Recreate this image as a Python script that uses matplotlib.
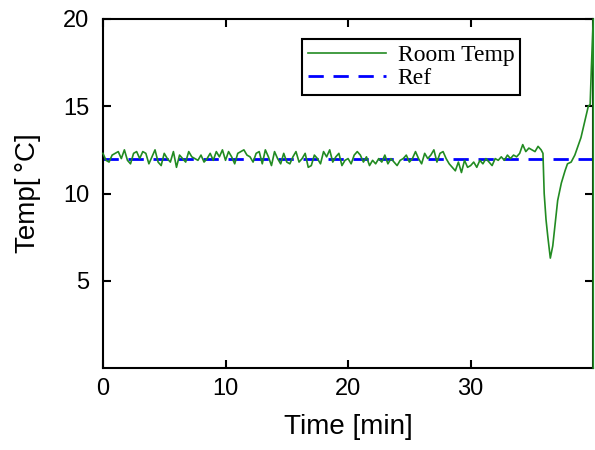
import numpy as np
import matplotlib.pyplot as plt

# room temperature log, 15 s samples up to 35.75 min
t_steady = np.arange(0, 36, 0.25)
temp_steady = [
    12.3, 11.9, 11.8, 12.2, 12.3, 12.4, 12.0, 12.5, 11.9, 11.7,
    12.3, 12.4, 12.0, 12.4, 12.3, 11.7, 12.1, 12.5, 11.8, 11.6,
    12.3, 12.0, 11.8, 12.4, 11.5, 12.2, 12.0, 11.8, 12.4, 12.1,
    12.0, 11.9, 12.2, 11.8, 12.0, 12.3, 11.9, 12.4, 12.1, 12.5,
    11.9, 12.4, 12.1, 11.7, 12.3, 12.4, 12.5, 12.2, 12.1, 11.8,
    12.3, 12.4, 11.7, 12.5, 12.1, 11.6, 12.4, 12.0, 11.7, 12.3,
    11.8, 11.7, 12.1, 12.4, 11.8, 12.0, 12.3, 11.5, 11.6, 12.2,
    12.0, 11.7, 12.4, 12.1, 12.5, 11.8, 12.1, 12.3, 11.6, 11.9,
    12.0, 11.7, 12.2, 12.4, 12.2, 11.8, 12.1, 11.6, 11.9, 11.7,
    12.0, 11.8, 12.2, 11.7, 12.0, 11.8, 11.6, 11.9, 12.0, 12.2,
    11.8, 12.0, 12.4, 12.0, 11.7, 12.3, 12.0, 12.2, 12.5, 11.8,
    12.3, 12.4, 12.0, 11.7, 11.5, 11.3, 11.8, 11.2, 11.9, 11.5,
    11.6, 11.8, 11.5, 11.9, 11.7, 12.0, 11.8, 11.6, 12.0, 11.9,
    12.1, 11.9, 12.2, 12.0, 12.2, 12.1, 12.3, 12.8, 12.4, 12.6,
    12.5, 12.4, 12.7, 12.5,
]
# door opened: drop and recovery
t_event = [35.9, 36.0, 36.15, 36.3, 36.5, 36.7, 36.9, 37.1, 37.4, 37.7,
           37.9, 38.2, 38.5, 38.8, 39.0, 39.2, 39.4, 39.6, 39.75, 39.85,
           39.95, 40.0, 40.0]
temp_event = [12.3, 10.0, 8.5, 7.5, 6.3, 7.0, 8.3, 9.6, 10.6, 11.3,
              11.7, 11.8, 12.2, 12.8, 13.2, 13.8, 14.4, 15.0, 15.1, 17.2,
              19.0, 20.0, 0.0]
ref_temp = 12

time = np.concatenate([t_steady, t_event])
temp = np.concatenate([temp_steady, temp_event])

plt.rcParams['font.family'] = 'Liberation Sans'
fig = plt.figure(figsize=(5.95, 4.5), dpi=100)
ax = fig.add_axes([0.173, 0.182, 0.824, 0.776])

ax.plot(time, temp, color='#228B22', lw=1.2, label='Room Temp', zorder=3, clip_on=False)
ax.plot([0, 40], [ref_temp, ref_temp], color='#0000FF', lw=2,
        linestyle=(0, (5.5, 3.5)), label='Ref', zorder=2)

ax.set_xlim(0, 40)
ax.set_ylim(0, 20)
ax.set_xticks([0, 10, 20, 30])
ax.set_yticks([5, 10, 15, 20])
ax.tick_params(direction='in', top=True, right=True, labelsize=17, length=6, width=1.5)
ax.tick_params(axis='x', pad=7)
ax.tick_params(axis='y', pad=10)
for s in ax.spines.values():
    s.set_linewidth(1.5)

ax.set_xlabel('Time [min]', fontsize=20, labelpad=10)
ax.set_ylabel('Temp[\u2009°C]', fontsize=20, labelpad=16)

leg = ax.legend(loc='upper left', bbox_to_anchor=(0.406, 0.943), borderaxespad=0,
                fancybox=False, edgecolor='black', framealpha=1, handlelength=3.3,
                prop={'family': 'Liberation Serif', 'size': 17},
                borderpad=0.25, labelspacing=0.05, handletextpad=0.5)
leg.get_frame().set_linewidth(1.5)

fig.savefig('out.png', dpi=100)
